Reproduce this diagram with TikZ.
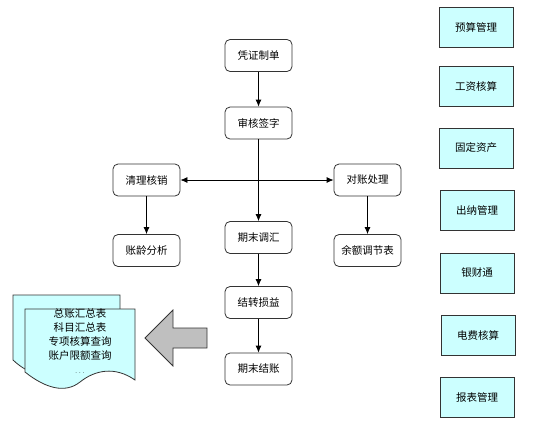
\documentclass[tikz,border=0pt]{standalone}
\usepackage{fontspec}
\setmainfont{Noto Sans CJK SC}
\usetikzlibrary{arrows.meta}
\definecolor{lcyan}{HTML}{CCFFFF}
\definecolor{edge}{HTML}{333333}
\begin{document}
\begin{tikzpicture}[x=1pt,y=-1pt,
  flow/.style={draw=edge, line width=0.8pt, rounded corners=5pt, fill=white,
    minimum width=67pt, minimum height=32pt, inner sep=0pt,
    font=\fontsize{10.5}{12}\selectfont},
  modbox/.style={draw=edge, line width=0.8pt, fill=lcyan,
    minimum width=74pt, minimum height=40pt, inner sep=0pt,
    font=\fontsize{10.5}{12}\selectfont},
  conn/.style={draw=black, line width=0.8pt, -{Latex[length=7pt,width=6pt]}},
  sheet/.style={draw=edge, line width=0.8pt, fill=lcyan},
  bigarrow/.style={draw=edge, line width=0.8pt, fill=black!25}
]
\useasboundingbox (0,0) rectangle (559,424);

% central flow
\node[flow] (pz) at (258.5,55.5) {凭证制单};
\node[flow] (sh) at (258.5,123) {审核签字};
\node[flow] (ql) at (146.5,180) {清理核销};
\node[flow] (dz) at (367.5,180) {对账处理};
\node[flow] (zl) at (146.5,250.5) {账龄分析};
\node[flow] (qm) at (258.5,237.5) {期末调汇};
\node[flow] (ye) at (367.5,250.5) {余额调节表};
\node[flow] (jz) at (258.5,302.5) {结转损益};
\node[flow] (js) at (258.5,369) {期末结账};

\draw[conn] (pz) -- (sh);
\draw[conn] (sh) -- (qm);
\draw[conn, {Latex[length=7pt,width=6pt]}-{Latex[length=7pt,width=6pt]}] (ql.east) -- (dz.west);
\draw[conn] (ql) -- (zl);
\draw[conn] (dz) -- (ye);
\draw[conn] (qm) -- (jz);
\draw[conn] (jz) -- (js);

% right modules
\node[modbox] (m1) at (476,27) {预算管理};
\node[modbox] (m2) at (476,86) {工资核算};
\node[modbox] (m3) at (476,148) {固定资产};
\node[modbox] (m4) at (477,210.5) {出纳管理};
\node[modbox] (m5) at (477,273) {银财通};
\node[modbox] (m6) at (478,335) {电费核算};
\node[modbox] (m7) at (477,397) {报表管理};

% documents (back and front sheets)
\draw[sheet] (13,295) -- (120,295) -- (120,366)
  .. controls (100,352) and (80,356) .. (65,370)
  .. controls (50,380) and (30,376) .. (13,360) -- cycle;
\draw[sheet] (25,309) -- (135,309) -- (135,380)
  .. controls (115,366) and (95,370) .. (80,382)
  .. controls (65,394) and (45,388) .. (25,372) -- cycle;
\node[align=center, inner sep=0pt, font=\fontsize{10.5}{14}\selectfont] (docs) at (80,341)
  {总账汇总表\\科目汇总表\\专项核算查询\\账户限额查询\\{\fontsize{6}{14}\selectfont .\,\,.\,\,.}};

% big gray arrow
\draw[bigarrow] (145,338) -- (173,310) -- (173,328) -- (207,328)
  -- (207,348) -- (173,348) -- (173,366) -- cycle;
\end{tikzpicture}
\end{document}
